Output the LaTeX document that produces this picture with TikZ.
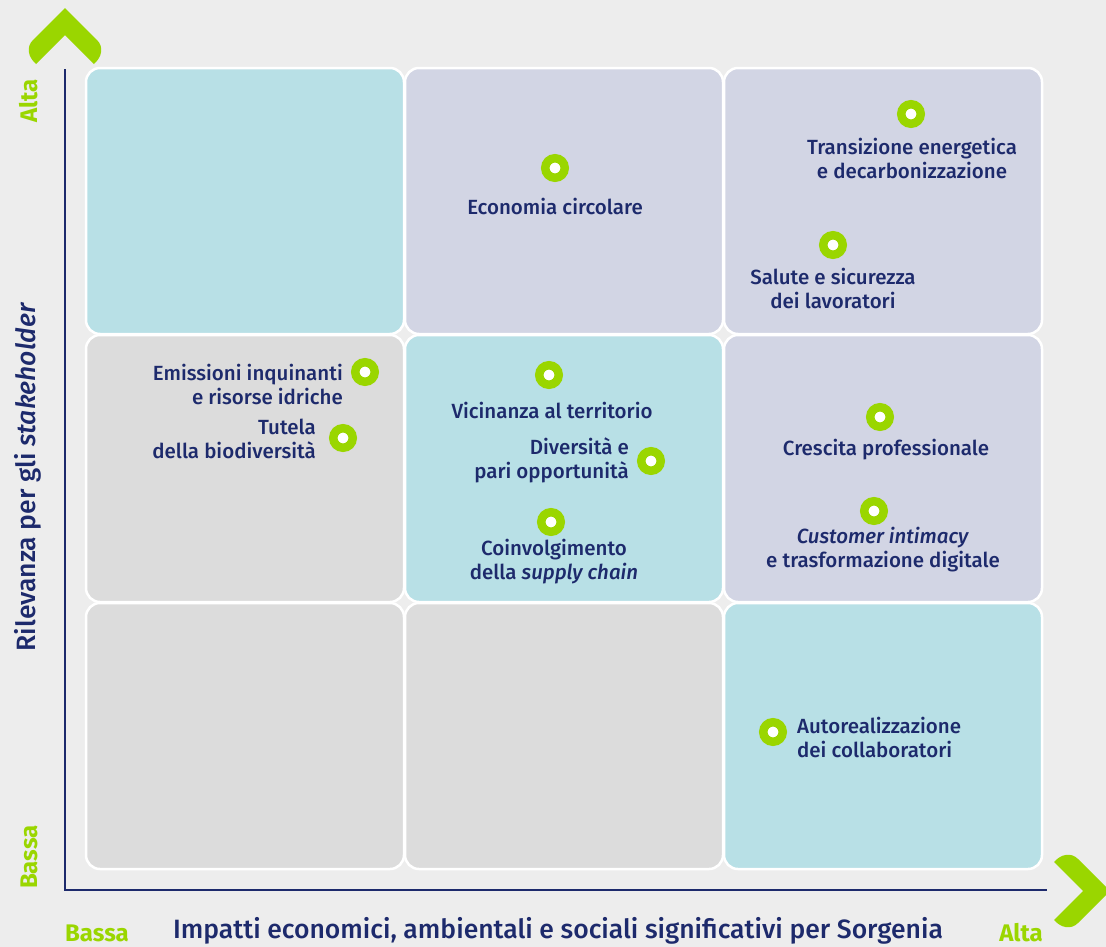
\documentclass[tikz,border=0pt]{standalone}
\usepackage{fontspec}
\setmainfont{Fira Sans}[UprightFont=* Medium, ItalicFont=* Medium Italic, BoldFont=* Bold]
\definecolor{bgc}{HTML}{EDEDED}
\definecolor{navy}{HTML}{1D2A6C}
\definecolor{lime}{HTML}{9AD600}
\definecolor{tealc}{HTML}{B8E0E6}
\definecolor{lavc}{HTML}{D2D5E4}
\definecolor{grayc}{HTML}{DCDCDC}
\tikzset{
  cell/.style={draw=white, line width=2.5bp, rounded corners=14bp},
  axis/.style={draw=navy, line width=2.8bp},
  chev/.style={fill=lime},
  dot/.style={circle, draw=lime, fill=white, line width=8.5bp, minimum size=19.5bp, inner sep=0pt},
  lbl/.style={text=navy, font=\fontsize{20.5bp}{24bp}\selectfont, inner sep=0pt},
  endlbl/.style={text=lime, font=\fontsize{24bp}{26bp}\selectfont\bfseries, inner sep=0pt},
  axlbl/.style={text=navy, font=\fontsize{26.5bp}{30bp}\selectfont, inner sep=0pt}
}
\begin{document}
\begin{tikzpicture}[x=1bp,y=-1bp]
\useasboundingbox (0,0) rectangle (1106,947);
\fill[bgc] (0,0) rectangle (1106,947);
% cells
\path[cell, fill=tealc] (86,68) rectangle (404,334);
\path[cell, fill=lavc] (405,68) rectangle (723,334);
\path[cell, fill=lavc] (724,68) rectangle (1042,334);
\path[cell, fill=grayc] (86,335) rectangle (404,602);
\path[cell, fill=tealc] (405,335) rectangle (723,602);
\path[cell, fill=lavc] (724,335) rectangle (1042,602);
\path[cell, fill=grayc] (86,603) rectangle (404,869);
\path[cell, fill=grayc] (405,603) rectangle (723,869);
\path[cell, fill=tealc] (724,603) rectangle (1042,869);
% axes
\coordinate (ytop) at (65,69);
\coordinate (origin) at (65,890);
\coordinate (xend) at (1047,890);
\draw[axis] (ytop) -- (origin) -- (xend);
% chevrons
\fill[chev] (65,8) -- (33,40) .. controls (26,47) and (28,57) .. (36,64)
  -- (65,35) -- (94,64) .. controls (102,57) and (104,47) .. (97,40) -- cycle;
\fill[chev] (1110,891) -- (1078,859) .. controls (1071,852) and (1061,854) .. (1054,862)
  -- (1083,891) -- (1054,920) .. controls (1061,928) and (1071,930) .. (1078,923) -- cycle;
% axis labels
\node[endlbl, rotate=90] (yhigh) at (29,101) {Alta};
\node[endlbl, rotate=90] (ylow) at (29,857) {Bassa};
\node[endlbl] (xlow) at (97,933) {Bassa};
\node[endlbl] (xhigh) at (1021,933) {Alta};
\node[axlbl] (xtitle) at (558,931) {Impatti economici, ambientali e sociali significativi per Sorgenia};
\node[axlbl, rotate=90] (ytitle) at (28,477) {Rilevanza per gli \textit{stakeholder}};
% topics
\node[dot] (d1) at (555,168) {};
\node[lbl] (t1) at (555,206) {Economia circolare};
\node[dot] (d2) at (911,114) {};
\node[lbl, align=center] (t2) at (912,158) {Transizione energetica\\e decarbonizzazione};
\node[dot] (d3) at (833,245) {};
\node[lbl, align=center] (t3) at (833,288) {Salute e sicurezza\\dei lavoratori};
\node[dot] (d4) at (365,372) {};
\node[lbl, align=right, anchor=east] (t4) at (343,384) {Emissioni inquinanti\\e risorse idriche};
\node[dot] (d5) at (343,438) {};
\node[lbl, align=right, anchor=east] (t5) at (316,439) {Tutela\\della biodiversità};
\node[dot] (d6) at (549,375) {};
\node[lbl] (t6) at (552,410) {Vicinanza al territorio};
\node[dot] (d7) at (651,461) {};
\node[lbl, align=right, anchor=east] (t7) at (629,460) {Diversità e\\pari opportunità};
\node[dot] (d8) at (551,522) {};
\node[lbl, align=center] (t8) at (554,562) {Coinvolgimento\\della \textit{supply chain}};
\node[dot] (d9) at (880,417) {};
\node[lbl] (t9) at (886,450) {Crescita professionale};
\node[dot] (d10) at (874,511) {};
\node[lbl, align=center] (t10) at (883,550) {\textit{Customer intimacy}\\e trasformazione digitale};
\node[dot] (d11) at (773,732) {};
\node[lbl, align=left, anchor=west] (t11) at (797,737) {Autorealizzazione\\dei collaboratori};
\end{tikzpicture}
\end{document}
